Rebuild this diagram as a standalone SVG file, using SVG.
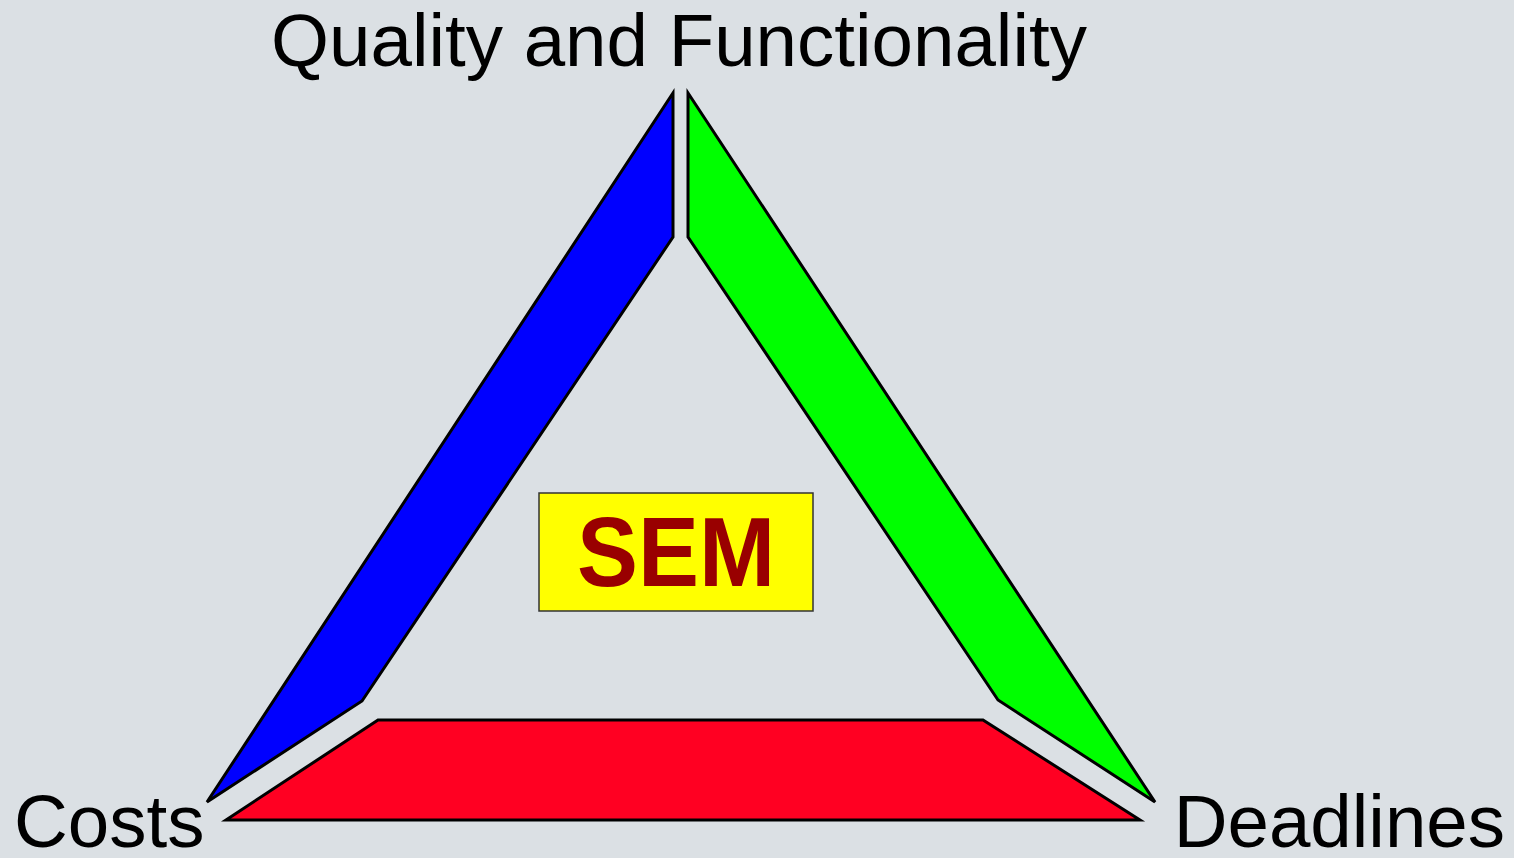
<svg xmlns="http://www.w3.org/2000/svg" width="1514" height="858" viewBox="0 0 1514 858">
<style>
.side{stroke:#000;stroke-width:3;stroke-linejoin:miter}
.lbl{font-family:"Liberation Sans",Arial,sans-serif;font-size:74.5px;fill:#000}
</style>
<rect width="1514" height="858" fill="#dbe0e4"/>
<g id="quality-label"><text class="lbl" x="679" y="66" text-anchor="middle">Quality and Functionality</text></g>
<g id="costs-label"><text class="lbl" x="14" y="847">Costs</text></g>
<g id="deadlines-label"><text class="lbl" x="1505" y="847" text-anchor="end">Deadlines</text></g>
<g id="connectors">
<polygon id="blue-side" class="side" fill="#0000ff" points="673,93 673,237 362,701 207,802"/>
<polygon id="green-side" class="side" fill="#00ff00" points="688,93 688,237 998,700 1155,802"/>
<polygon id="red-side" class="side" fill="#ff0022" points="226,820 378,720 983,720 1140,820"/>
</g>
<g id="sem">
<rect x="539" y="493" width="274" height="118" fill="#ffff00" stroke="#333" stroke-width="1.5"/>
<text x="676" y="586" text-anchor="middle" font-family="Liberation Sans,Arial,sans-serif" font-weight="bold" font-size="98" fill="#990000" textLength="198" lengthAdjust="spacingAndGlyphs">SEM</text>
</g>
</svg>
